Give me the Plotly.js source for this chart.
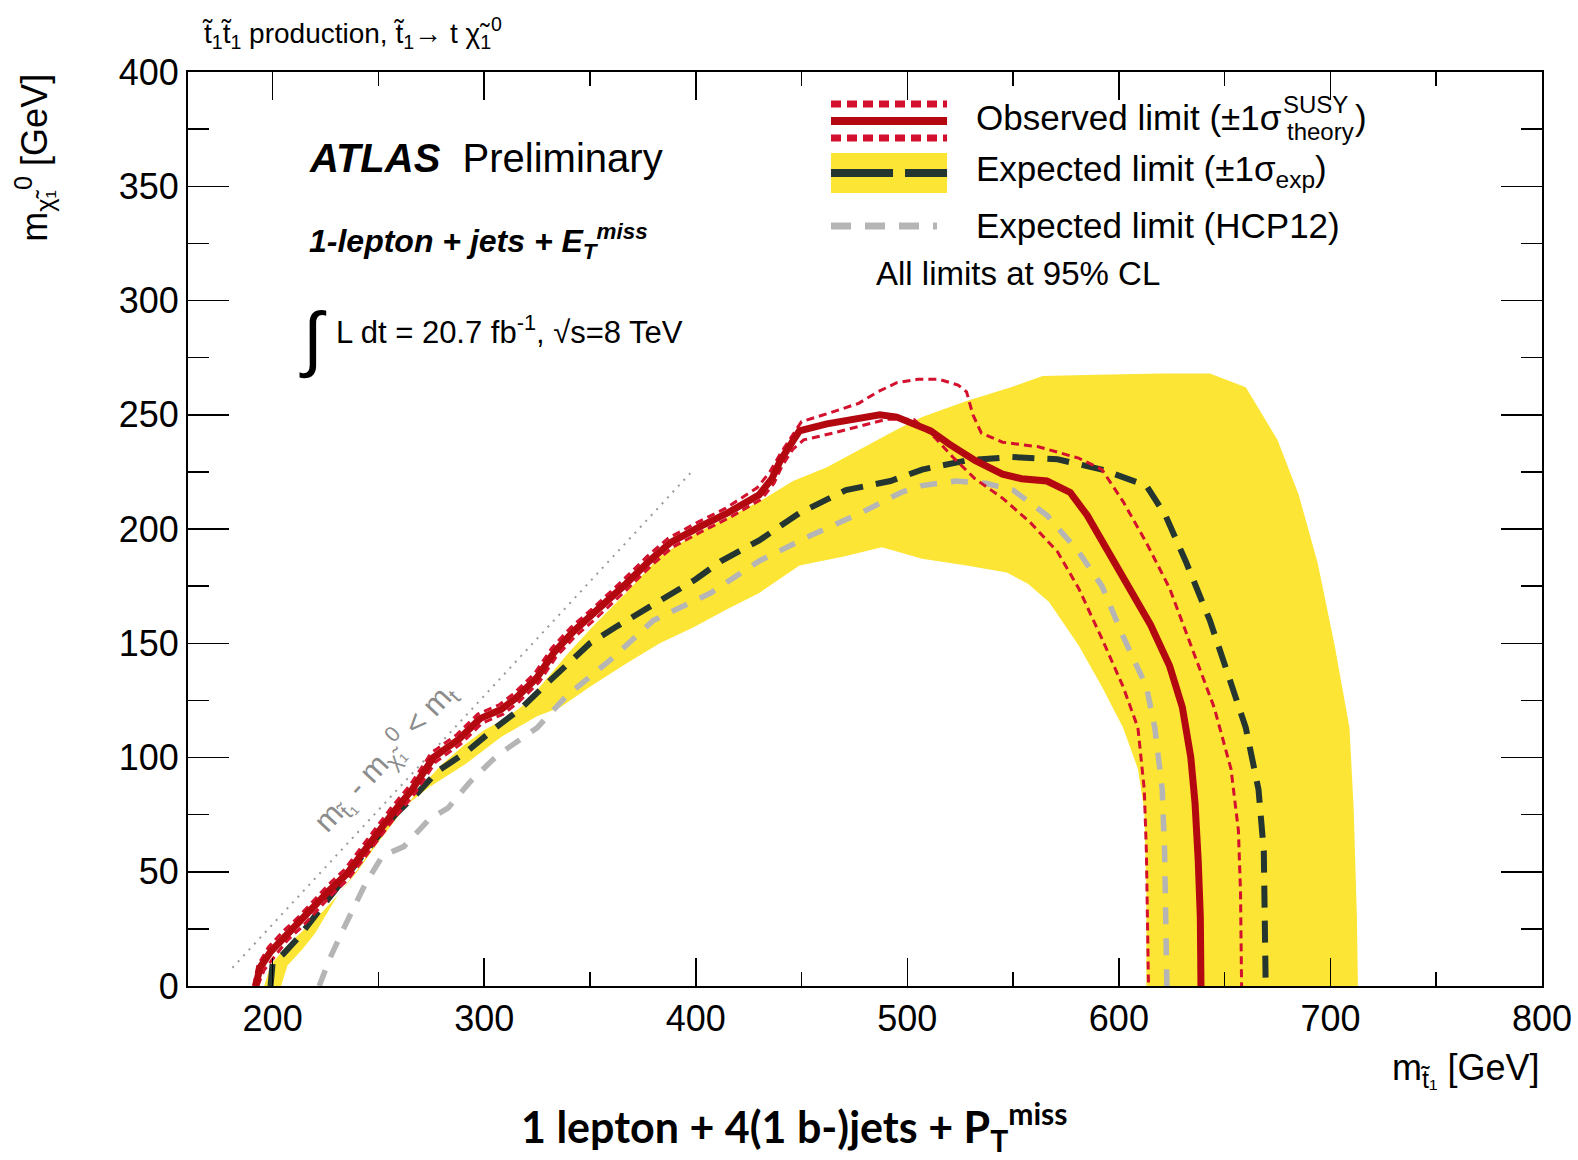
<!DOCTYPE html>
<html>
<head>
<meta charset="utf-8">
<script src="https://cdn.plot.ly/plotly-3.0.1.min.js"></script>
<style>html,body{margin:0;padding:0;background:#fff}</style>
</head>
<body>
<div id="chart" style="width:1578px;height:1160px"></div>
<script>
// Stop pair production exclusion limits: m(stop) [GeV] vs m(neutralino) [GeV]

// Observed limit
const obsX = [192, 194, 199, 206, 213, 220, 227, 235, 247, 257, 266, 276, 288, 298, 308, 315, 325, 333, 342, 352, 367, 378, 388, 402, 415, 430, 436, 440, 445, 449, 462, 475, 487, 495, 503, 511, 520, 532, 545, 554, 566, 577, 585, 595, 605, 615, 624, 630, 634, 636, 637.5, 638.5, 638.8];
const obsY = [0, 8, 15, 22, 28, 35, 42, 49, 64, 76, 86, 100, 108, 117, 121, 126, 135, 146, 155, 163, 176, 186, 194, 201, 207, 215, 222, 230, 237, 243, 246, 248, 250, 249, 246, 243, 237, 230, 224, 222, 221, 216, 206, 190, 174, 158, 140, 122, 100, 80, 55, 30, 0];

// Observed limit, +1 sigma theory
const obsUpX = [191, 193, 198, 205, 212, 219, 226, 234, 246, 256, 265, 275, 287, 297, 307, 314, 324, 332, 341, 351, 366, 377, 387, 401, 414, 429, 435, 440, 445, 450, 464, 477, 486, 495, 505, 515, 524, 528, 531, 535, 545, 562, 581, 592, 602, 613, 624, 634, 645, 653, 656.5, 657.5, 658];
const obsUpY = [0, 9, 17, 24, 30, 37, 44, 51, 66, 78, 88, 102, 110, 119, 123, 128, 137, 148, 157, 165, 178, 188, 196, 203, 209, 218, 225, 233, 240, 247, 251, 255, 260, 264, 265.5, 265.5, 263, 260, 250, 242, 238, 236, 231, 226, 212, 194, 174, 149, 122, 95, 68, 41, 0];

// Observed limit, -1 sigma theory
const obsDnX = [193, 196, 201, 207, 214, 221, 228, 236, 248, 258, 267, 277, 289, 299, 309, 316, 326, 334, 343, 353, 368, 379, 389, 403, 416, 431, 437, 441, 446, 451, 465, 478, 490, 503, 513, 522, 532, 545, 558, 571, 581, 592, 602, 609, 612, 613, 614];
const obsDnY = [0, 7, 13, 20, 26, 33, 40, 47, 62, 74, 84, 98, 106, 115, 119, 124, 133, 144, 153, 161, 174, 184, 192, 199, 205, 213, 220, 228, 235, 239, 242, 245, 248, 248, 240, 231, 222, 213.5, 203, 190, 174, 152, 131, 113, 86, 59, 0];

// Expected limit
const expX = [199, 200, 205, 212, 222, 232, 245, 258, 268, 278, 291, 304, 318, 328, 338, 350, 362, 377, 392, 400, 412, 430, 449, 471, 492, 507, 528, 549, 571, 592, 613, 622, 632, 643, 651, 660, 666, 668.5, 669.4];
const expY = [0, 10, 14, 21, 33, 45, 60, 75, 84, 94, 102, 112, 122, 131, 140, 150, 157, 165, 173, 178, 186, 195, 207, 217, 221, 226, 230, 231.5, 230.5, 226, 219, 206, 185, 160, 138, 113, 86, 59, 0];

// Expected limit +-1 sigma band: upper and lower edges
const bandUpX = [196, 199, 206, 214, 222, 230, 240, 250, 260, 270, 280, 290, 300, 310, 320, 330, 340, 352, 367, 383, 400, 415, 430, 446, 462, 478, 494, 507, 528, 549, 564, 590, 620, 643, 660, 675, 685, 694, 702, 709, 711, 712.5, 713];
const bandUpY = [0, 9, 17, 24, 31, 39, 50, 63, 75, 87, 97, 105, 112, 117, 124, 135, 146, 158, 172, 188, 198, 205, 212, 221, 227, 235, 243, 249, 256, 262, 267, 267.5, 268, 268, 262, 239, 215, 185, 149, 113, 77, 30, 0];
const bandDnX = [204, 207, 214, 220, 231, 241, 251, 259, 274, 291, 308, 325, 336, 350, 367, 383, 399, 415, 430, 449, 470, 488, 507, 528, 547, 557, 567, 581, 592, 602, 609, 612, 613, 613];
const bandDnY = [0, 9, 16, 23, 40, 52, 66, 76, 87, 97, 109, 118, 122, 131, 141, 150, 157, 165, 172, 184, 188, 192, 187, 184, 181, 176, 168, 149, 131, 113, 95, 77, 40, 0];

// Expected limit (HCP12)
const hcpX = [222, 227, 234, 244, 252, 262, 274, 283, 293, 304, 311, 325, 339, 360, 380, 407, 430, 454, 478, 497, 507, 523, 537, 550, 566, 581, 592, 602, 613, 617, 620.5, 621.6, 622.7];
const hcpY = [0, 12, 26, 45, 57, 61, 73, 78, 89, 99, 104, 113, 127, 143, 160, 172, 186, 197, 207, 216, 219, 221, 220, 217, 206, 190, 175, 153, 131, 113, 86, 59, 0];

// Kinematic boundary m(stop) - m(neutralino) = m(top)
const kinX = [181, 399];
const kinY = [8, 226];

const C = {
  band: '#fce534',
  obs: '#b3080f',
  theo: '#d3102e',
  exp: '#253530',
  hcp: '#b5b5b5',
  kin: '#9a9a9a'
};
const FONT = 'Liberation Sans, Arial, Helvetica, sans-serif';

const bandPolyX = bandUpX.concat(bandDnX.slice().reverse());
const bandPolyY = bandUpY.concat(bandDnY.slice().reverse());

const traces = [
  {x: kinX, y: kinY, mode: 'lines', line: {color: C.kin, width: 2, dash: '2px,6px'}, hoverinfo: 'skip'},
  {x: bandPolyX, y: bandPolyY, mode: 'lines', fill: 'toself', fillcolor: C.band, line: {width: 0, color: C.band}, hoverinfo: 'skip'},
  {x: hcpX, y: hcpY, mode: 'lines', line: {color: C.hcp, width: 5.5, dash: '17px,14px'}},
  {x: expX, y: expY, mode: 'lines', line: {color: C.exp, width: 6, dash: '22px,13px'}},
  {x: obsUpX, y: obsUpY, mode: 'lines', line: {color: C.theo, width: 3, dash: '8px,5px'}},
  {x: obsDnX, y: obsDnY, mode: 'lines', line: {color: C.theo, width: 3, dash: '8px,5px'}},
  {x: obsX, y: obsY, mode: 'lines', line: {color: C.obs, width: 7}}
];

// legend geometry (paper fractions)
const lgX0 = 0.4749, lgX1 = 0.5606;
const shapes = [
  {type: 'line', xref: 'paper', yref: 'paper', x0: lgX0, x1: lgX1, y0: 0.965, y1: 0.965, line: {color: C.theo, width: 7, dash: '10px,6px'}},
  {type: 'line', xref: 'paper', yref: 'paper', x0: lgX0, x1: lgX1, y0: 0.9464, y1: 0.9464, line: {color: C.obs, width: 8}},
  {type: 'line', xref: 'paper', yref: 'paper', x0: lgX0, x1: lgX1, y0: 0.9278, y1: 0.9278, line: {color: C.theo, width: 7, dash: '10px,6px'}},
  {type: 'rect', xref: 'paper', yref: 'paper', x0: lgX0, x1: lgX1, y0: 0.8676, y1: 0.9114, fillcolor: C.band, line: {width: 0}},
  {type: 'line', xref: 'paper', yref: 'paper', x0: lgX0, x1: lgX1, y0: 0.8895, y1: 0.8895, line: {color: C.exp, width: 8, dash: '62px,12px'}},
  {type: 'line', xref: 'paper', yref: 'paper', x0: lgX0, x1: 0.5532, y0: 0.8315, y1: 0.8315, line: {color: C.hcp, width: 7, dash: '20px,14px'}}
];

const ann = (o) => Object.assign({xref: 'paper', yref: 'paper', showarrow: false, xanchor: 'left', yanchor: 'middle', font: {family: FONT, size: 36, color: '#000'}}, o);

const annotations = [
  ann({x: 0.0089, y: 1.043, text: 't\u0303<sub>1</sub>t\u0303<sub>1</sub> production, t\u0303<sub>1</sub>\u2192 t \u03c7\u0303<sub>1</sub><sup>0</sup>', font: {family: FONT, size: 28, color: '#000'}}),
  ann({x: 0.0879, y: 0.906, text: '<b><i>ATLAS</i></b>  Preliminary', font: {family: FONT, size: 40, color: '#000'}}),
  ann({x: 0.0879, y: 0.815, text: '<b><i>1-lepton + jets + E<sub>T</sub><sup>miss</sup></i></b>', font: {family: FONT, size: 32, color: '#000'}}),
  ann({x: 0.0805, y: 0.708, text: '\u222b', font: {family: FONT, size: 72, color: '#000'}}),
  ann({x: 0.108, y: 0.7177, text: 'L dt = 20.7 fb<sup>-1</sup>, \u221as=8 TeV', font: {family: FONT, size: 31, color: '#000'}}),
  // legend texts; the sigma super/subscripts are stacked
  ann({x: 0.5805, y: 0.9497, text: 'Observed limit (\u00b11\u03c3', font: {family: FONT, size: 35, color: '#000'}}),
  ann({x: 0.8073, y: 0.9639, text: 'SUSY', font: {family: FONT, size: 24, color: '#000'}}),
  ann({x: 0.8102, y: 0.9354, text: 'theory', font: {family: FONT, size: 24, color: '#000'}}),
  ann({x: 0.8605, y: 0.9497, text: ')', font: {family: FONT, size: 35, color: '#000'}}),
  ann({x: 0.5805, y: 0.8917, text: 'Expected limit (\u00b11\u03c3<sub>exp</sub>)', font: {family: FONT, size: 35, color: '#000'}}),
  ann({x: 0.5805, y: 0.8326, text: 'Expected limit (HCP12)', font: {family: FONT, size: 35, color: '#000'}}),
  ann({x: 0.5066, y: 0.779, text: 'All limits at 95% CL', font: {family: FONT, size: 33, color: '#000'}}),
  // kinematic boundary label
  {x: 253, y: 100.5, xref: 'x', yref: 'y', showarrow: false, textangle: -47,
   text: 'm<sub>t\u0303\u2081</sub> - m<sub>\u03c7\u0303\u2081</sub><sup>0</sup> &lt; m<sub>t</sub>',
   font: {family: FONT, size: 31, color: '#8c8c8c'}},
  // axis titles
  ann({x: -0.114, y: 1.0, xanchor: 'center', yanchor: 'top', textangle: -90, text: 'm<sub>\u03c7\u0303\u2081</sub><sup>0</sup> [GeV]', font: {family: FONT, size: 36, color: '#000'}}),
  ann({x: 1.0, y: -0.092, xanchor: 'right', text: 'm<sub>t\u0303\u2081</sub> [GeV]', font: {family: FONT, size: 36, color: '#000'}}),
  // bottom caption
  ann({x: 0.4483, y: -0.154, xanchor: 'center', text: '<b>1 lepton + 4(1 b-)jets + P<sub>T</sub><sup>miss</sup></b>', font: {family: 'Lato, Open Sans, sans-serif', size: 43, color: '#000'}})
];

const layout = {
  width: 1578, height: 1160,
  margin: {l: 188, r: 36, t: 72, b: 174},
  paper_bgcolor: '#fff', plot_bgcolor: '#fff',
  showlegend: false,
  font: {family: FONT, size: 36, color: '#000'},
  xaxis: {
    range: [160, 800], tick0: 0, dtick: 100,
    showline: true, linecolor: '#000', linewidth: 2, mirror: 'allticks',
    ticks: 'inside', ticklen: 28, tickwidth: 1.5, tickcolor: '#000',
    minor: {dtick: 50, ticks: 'inside', ticklen: 14, tickwidth: 1.5, tickcolor: '#000'},
    showgrid: false, zeroline: false,
    tickfont: {family: FONT, size: 36, color: '#000'}
  },
  yaxis: {
    range: [0, 400], tick0: 0, dtick: 50,
    showline: true, linecolor: '#000', linewidth: 2, mirror: 'allticks',
    ticks: 'inside', ticklen: 41, tickwidth: 1.5, tickcolor: '#000',
    minor: {dtick: 25, ticks: 'inside', ticklen: 21, tickwidth: 1.5, tickcolor: '#000'},
    showgrid: false, zeroline: false,
    tickfont: {family: FONT, size: 36, color: '#000'}
  },
  shapes: shapes,
  annotations: annotations
};

Plotly.newPlot('chart', traces, layout, {staticPlot: true, displayModeBar: false});
</script>
</body>
</html>
